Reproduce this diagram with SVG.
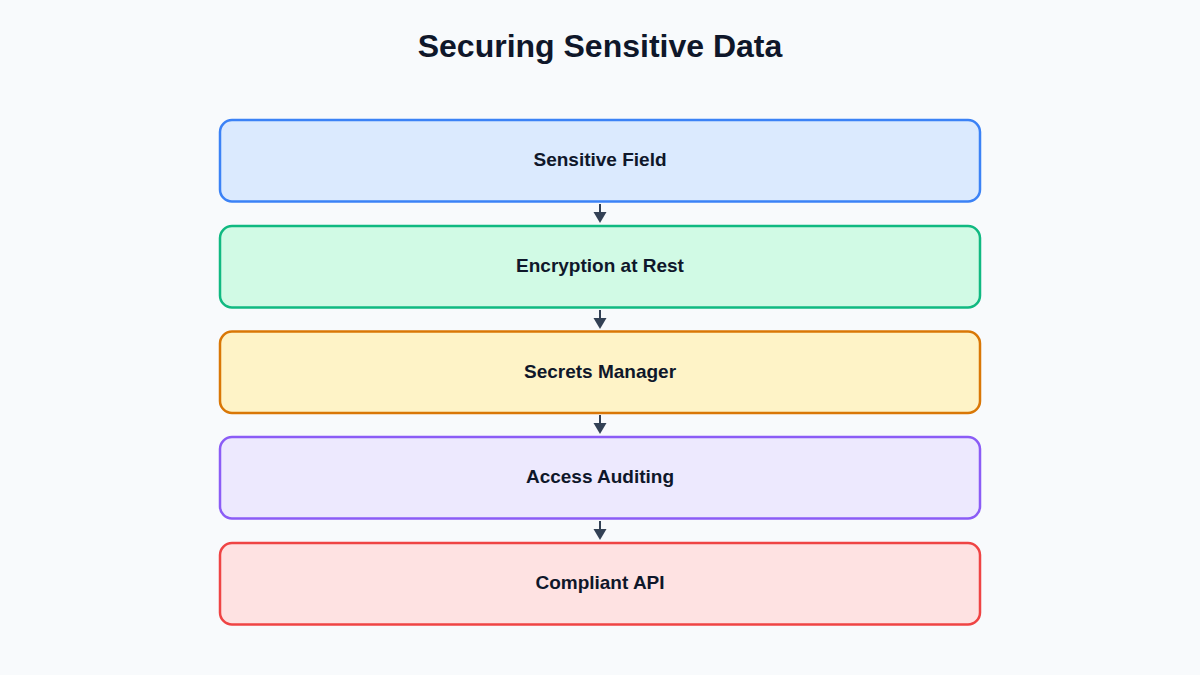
<svg xmlns="http://www.w3.org/2000/svg" width="1200" height="675" viewBox="0 0 1200 675">
<style>
.bg{fill:#f8fafc}
.title{font-family:"Liberation Sans",Arial,sans-serif;font-size:32px;font-weight:bold;fill:#0f172a;text-anchor:middle}
.box{stroke-width:2.5}
.label{font-family:"Liberation Sans",Arial,sans-serif;font-size:19px;font-weight:bold;fill:#0f172a;text-anchor:middle;dominant-baseline:central}
.conn{stroke:#334155;stroke-width:2;fill:none}
.head{fill:#334155}
</style>
<rect class="bg" x="0" y="0" width="1200" height="675"/>
<text class="title" x="600" y="57">Securing Sensitive Data</text>
<g id="connectors">
<line class="conn" x1="600" y1="204" x2="600" y2="213"/>
<path class="head" d="M593.5,212 L606.5,212 L600,223 z"/>
<line class="conn" x1="600" y1="310" x2="600" y2="319"/>
<path class="head" d="M593.5,318 L606.5,318 L600,329 z"/>
<line class="conn" x1="600" y1="415" x2="600" y2="424"/>
<path class="head" d="M593.5,423 L606.5,423 L600,434 z"/>
<line class="conn" x1="600" y1="521" x2="600" y2="530"/>
<path class="head" d="M593.5,529 L606.5,529 L600,540 z"/>
</g>
<g id="node1">
<rect class="box" x="220" y="120" width="760" height="81.5" rx="12" fill="#dbeafe" stroke="#3b82f6"/>
<text class="label" x="600" y="159">Sensitive Field</text>
</g>
<g id="node2">
<rect class="box" x="220" y="226" width="760" height="81.5" rx="12" fill="#d1fae5" stroke="#10b981"/>
<text class="label" x="600" y="265">Encryption at Rest</text>
</g>
<g id="node3">
<rect class="box" x="220" y="331.5" width="760" height="81.5" rx="12" fill="#fef3c7" stroke="#d97706"/>
<text class="label" x="600" y="371">Secrets Manager</text>
</g>
<g id="node4">
<rect class="box" x="220" y="437" width="760" height="81.5" rx="12" fill="#ede9fe" stroke="#8b5cf6"/>
<text class="label" x="600" y="476">Access Auditing</text>
</g>
<g id="node5">
<rect class="box" x="220" y="543" width="760" height="81.5" rx="12" fill="#fee2e2" stroke="#ef4444"/>
<text class="label" x="600" y="582">Compliant API</text>
</g>
</svg>
